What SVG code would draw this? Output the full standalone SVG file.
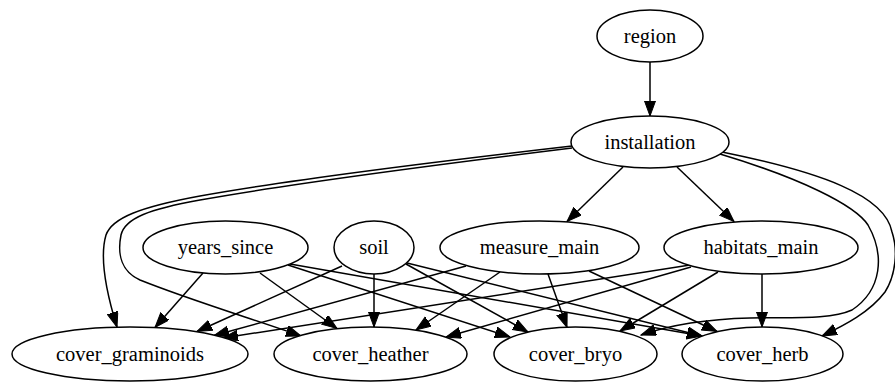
<svg xmlns="http://www.w3.org/2000/svg" width="895" height="383" viewBox="0 0 895 383">
<style>
.node ellipse{fill:#fff;stroke:#000;stroke-width:1.5}
.node text{font-size:20.5px;text-anchor:middle;fill:#000}
.edges path{fill:none;stroke:#000;stroke-width:1.5;marker-end:url(#arr)}
</style>
<defs>
<marker id="arr" markerUnits="userSpaceOnUse" markerWidth="16" markerHeight="12" refX="15" refY="5.5" orient="auto">
<path d="M0,0 L15,5.5 L0,11 z" fill="#000" stroke="#000" stroke-width="1"/>
</marker>
</defs>
<rect width="895" height="383" fill="#fff"/>
<g class="edges" id="edges">
<path d="M650,62 L650,116"/>
<path d="M623,167 L567,221.5"/>
<path d="M677,167 L734,221.5"/>
<path d="M572,146 C450,160 300,178 200,196 C140,207 112,218 106,235 C100,255 104,285 117,327"/>
<path d="M572,148 C450,163 300,182 200,200 C150,209 125,218 121,235 C117,255 122,272 140,280 C190,300 250,318 301,336"/>
<path d="M720,154 C800,178 855,205 868,225 C885,255 882,290 852,310 C830,320 790,317 750,318 C710,319 670,325 641,335"/>
<path d="M722,152 C820,172 885,195 892,232 C898,250 896,275 885,292 C870,312 845,325 822,336"/>
<path d="M203,273 L155,327.5"/>
<path d="M260,273 L337,328.5"/>
<path d="M288,265 L510,337"/>
<path d="M290,264 L702,336"/>
<path d="M342,266 L197,331.5"/>
<path d="M374,274 L374,327"/>
<path d="M406,264 L528,332"/>
<path d="M407,263 L702,336"/>
<path d="M466,266 L214,335.5"/>
<path d="M500,272 L416,330"/>
<path d="M548,274 L567,327.5"/>
<path d="M589,271 L717,331.5"/>
<path d="M690,265 L223,338"/>
<path d="M691,267 L446,337"/>
<path d="M718,272 L620,331"/>
<path d="M762,274 L762,327"/>
</g>
<g class="node" id="region"><ellipse cx="650" cy="36" rx="53" ry="26"/><text x="650" y="42.5" font-family="Liberation Serif, DejaVu Serif, serif">region</text></g>
<g class="node" id="installation"><ellipse cx="650" cy="142" rx="79" ry="26"/><text x="650" y="148.5" font-family="Liberation Serif, DejaVu Serif, serif">installation</text></g>
<g class="node" id="years_since"><ellipse cx="225.5" cy="247.5" rx="82.5" ry="26.5"/><text x="225.5" y="254" font-family="Liberation Serif, DejaVu Serif, serif">years_since</text></g>
<g class="node" id="soil"><ellipse cx="374" cy="247.5" rx="40" ry="26.5"/><text x="374" y="254" font-family="Liberation Serif, DejaVu Serif, serif">soil</text></g>
<g class="node" id="measure_main"><ellipse cx="539.5" cy="247.5" rx="99.5" ry="26.5"/><text x="539.5" y="254" font-family="Liberation Serif, DejaVu Serif, serif">measure_main</text></g>
<g class="node" id="habitats_main"><ellipse cx="761" cy="247.5" rx="97" ry="26.5"/><text x="761" y="254" font-family="Liberation Serif, DejaVu Serif, serif">habitats_main</text></g>
<g class="node" id="cover_graminoids"><ellipse cx="130" cy="354" rx="118" ry="27"/><text x="130" y="360.5" font-family="Liberation Serif, DejaVu Serif, serif">cover_graminoids</text></g>
<g class="node" id="cover_heather"><ellipse cx="370.5" cy="354" rx="96.5" ry="27"/><text x="370.5" y="360.5" font-family="Liberation Serif, DejaVu Serif, serif">cover_heather</text></g>
<g class="node" id="cover_bryo"><ellipse cx="575.5" cy="354" rx="81.5" ry="27"/><text x="575.5" y="360.5" font-family="Liberation Serif, DejaVu Serif, serif">cover_bryo</text></g>
<g class="node" id="cover_herb"><ellipse cx="762.5" cy="354" rx="80.5" ry="27"/><text x="762.5" y="360.5" font-family="Liberation Serif, DejaVu Serif, serif">cover_herb</text></g>
</svg>
